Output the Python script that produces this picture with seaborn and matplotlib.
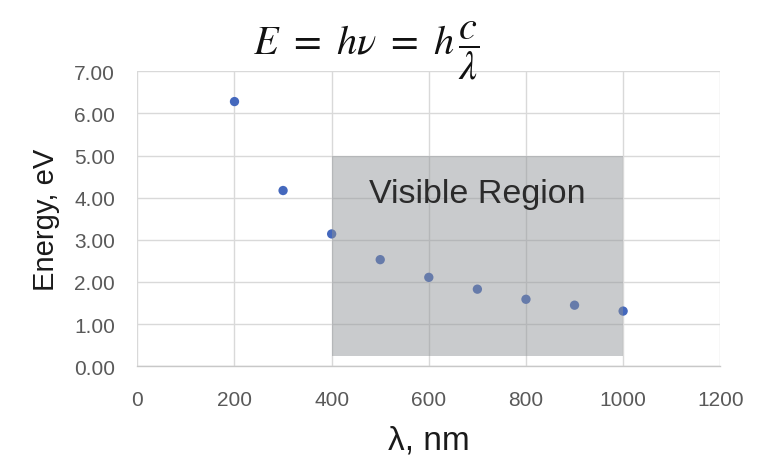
import pandas as pd
import seaborn as sns
import matplotlib.pyplot as plt
from matplotlib.patches import Rectangle

# 波长 (nm) 和 光子能量 (eV)
wavelength = [200, 300, 400, 500, 600, 700, 800, 900, 1000]
energy = [6.28, 4.17, 3.14, 2.53, 2.11, 1.83, 1.59, 1.45, 1.31]
x_ticks = [0, 200, 400, 600, 800, 1000, 1200]
y_ticks = [0, 1, 2, 3, 4, 5, 6, 7]
visible_x = [400, 1000]
visible_y = [0.25, 5.0]

sns.set_theme(style="whitegrid")
plt.rcParams['font.family'] = ['Liberation Sans', 'DejaVu Sans']
plt.rcParams['mathtext.fontset'] = 'stix'

df = pd.DataFrame({'wavelength': wavelength, 'energy': energy})

fig = plt.figure(figsize=(7.63, 4.6), dpi=100)
ax = fig.add_axes([0.18, 0.2015, 0.764, 0.6415])

sns.scatterplot(data=df, x='wavelength', y='energy', ax=ax, color='#4468bd',
                s=45, edgecolor='none', zorder=2)

# 可见光区域 (半透明灰色, 盖在点上)
ax.add_patch(Rectangle((visible_x[0], visible_y[0]), visible_x[1] - visible_x[0],
                       visible_y[1] - visible_y[0], facecolor='#8e9195', alpha=0.47,
                       edgecolor='none', zorder=3))
ax.text(700, 4.1, 'Visible Region', ha='center', va='center', fontsize=24.5,
        color='#2b2b2b', zorder=4)

ax.set_xlim(0, 1200)
ax.set_ylim(0, 7)
ax.set_xticks(x_ticks)
ax.set_yticks(y_ticks)
ax.set_yticklabels(['%.2f' % v for v in y_ticks])
ax.tick_params(axis='both', labelsize=15, colors='#595959', length=0)
ax.tick_params(axis='y', pad=16)
ax.tick_params(axis='x', pad=17)
ax.grid(True, color='#d9d9d9', linewidth=1.0)
for s in ['top', 'right', 'left']:
    ax.spines[s].set_visible(False)
ax.spines['bottom'].set_color('#c8c8c8')
ax.spines['bottom'].set_linewidth(1.0)

ax.set_xlabel('λ, nm', fontsize=24, color='#1a1a1a', labelpad=11)
ax.set_ylabel('Energy, eV', fontsize=21, color='#1a1a1a', labelpad=10)

fig.text(0.48, 0.89, r'$E\ =\ h\nu\ =\ h\,\dfrac{c}{\lambda}$', ha='center', va='center',
         fontsize=29, color='#111111')

plt.savefig('out.png', dpi=100)
